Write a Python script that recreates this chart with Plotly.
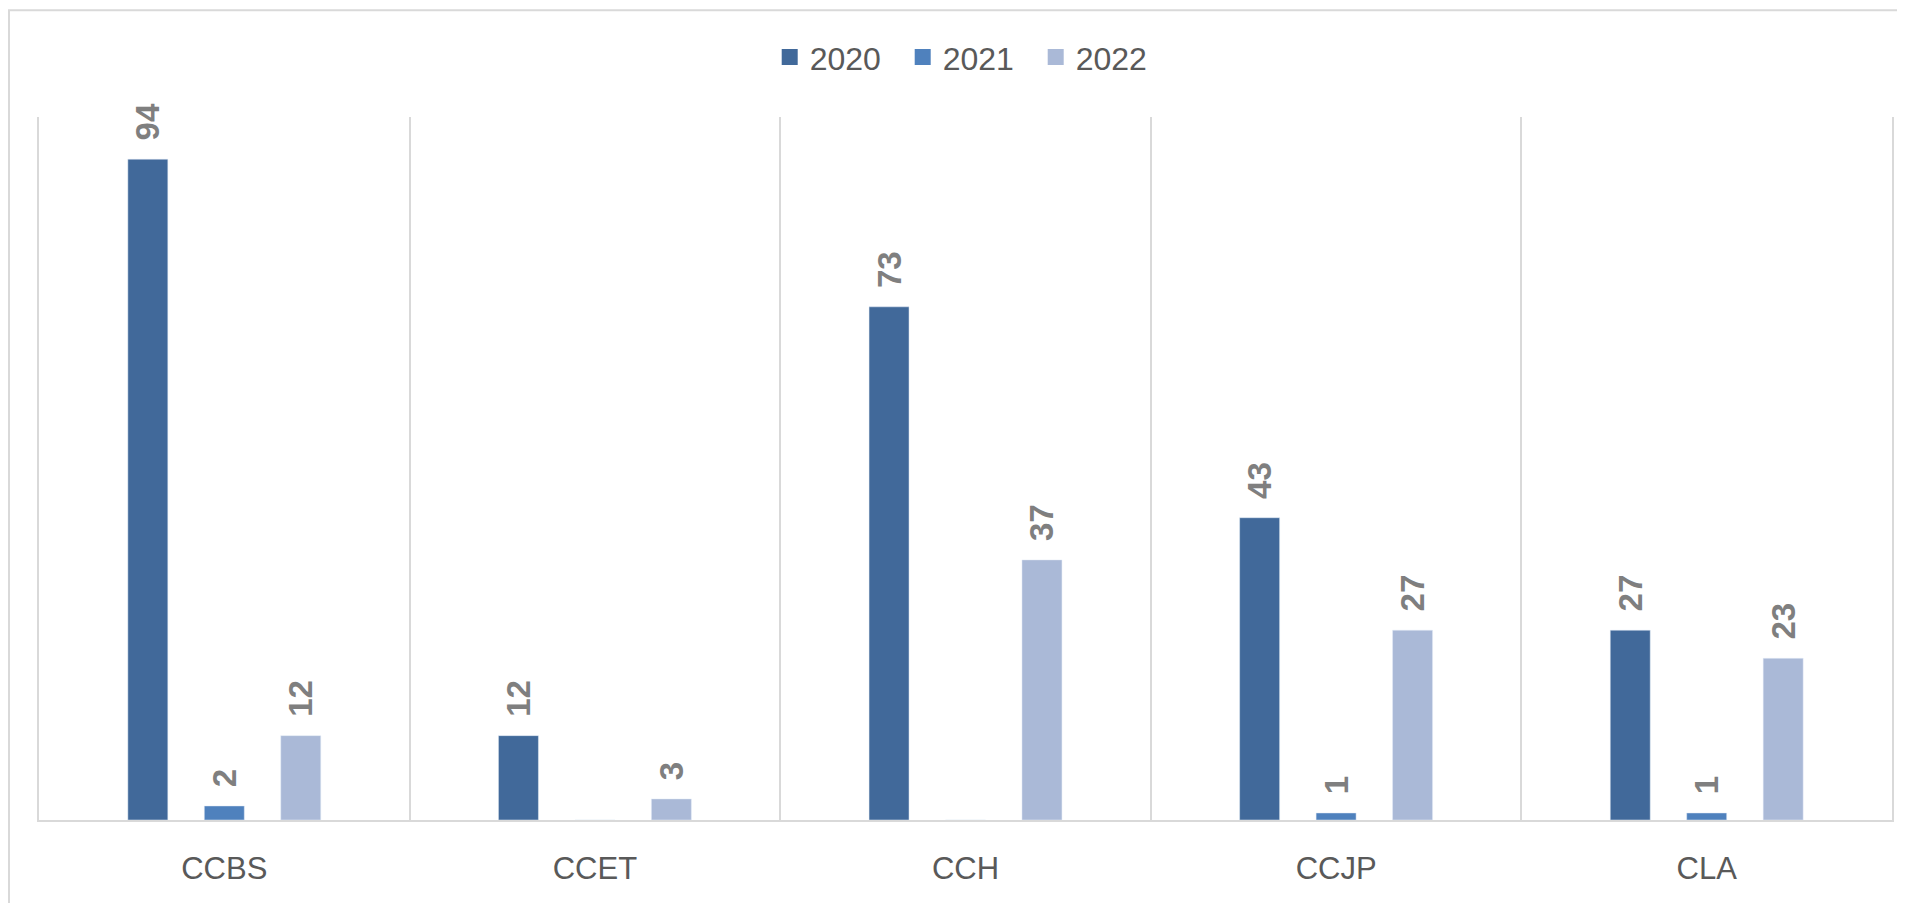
import plotly.graph_objects as go

categories = ["CCBS", "CCET", "CCH", "CCJP", "CLA"]
years = ["2020", "2021", "2022"]
values_2020 = [94, 12, 73, 43, 27]
values_2021 = [2, 0, 0, 1, 1]
values_2022 = [12, 3, 37, 27, 23]
colors = ["#41699a", "#4f81bd", "#aab9d7"]

series = [values_2020, values_2021, values_2022]

fig = go.Figure()
for name, vals, col in zip(years, series, colors):
    fig.add_trace(go.Bar(
        x=categories, y=vals, name=name, marker_color=col, showlegend=False,
        text=["\u00a0\u2009" + str(v) if v else "" for v in vals],
        textposition="outside", textangle=-90, constraintext="none",
        cliponaxis=False,
        textfont=dict(family="Liberation Sans", size=33, color="#7f7f7f", weight="bold"),
        hoverinfo="x+y",
    ))
    fig.add_trace(go.Scatter(
        x=[None], y=[None], mode="markers", name=name,
        marker=dict(symbol="square", size=21, color=col),
        showlegend=True,
    ))

fig.update_layout(
    width=1897, height=895,
    margin=dict(l=31, r=13, t=109, b=83),
    paper_bgcolor="white", plot_bgcolor="white",
    barmode="group", bargap=0.381, bargroupgap=0.477,
    legend=dict(orientation="h", x=0.502, xanchor="center", y=1.085, yanchor="middle",
                font=dict(family="Liberation Sans", size=32, color="#595959"),
                entrywidth=88, entrywidthmode="pixels", itemclick=False),
    xaxis=dict(type="category", tickson="boundaries", showgrid=True, gridcolor="#d9d9d9",
               gridwidth=1.5, showline=True, linecolor="#d9d9d9", linewidth=2,
               ticks="", ticklabelstandoff=20,
               tickfont=dict(family="Liberation Sans", size=31, color="#595959"),
               range=[-0.5, 4.5]),
    yaxis=dict(range=[0, 100], showgrid=False, showticklabels=False, zeroline=False,
               showline=True, mirror=True, linecolor="#d9d9d9", linewidth=1.5),
    shapes=[dict(type="rect", xref="paper", yref="paper", x0=-0.0162, x1=1.03, y0=-0.2, y1=1.152,
                 line=dict(color="#d9d9d9", width=2), layer="below")],
)

fig.write_html("out.html")
